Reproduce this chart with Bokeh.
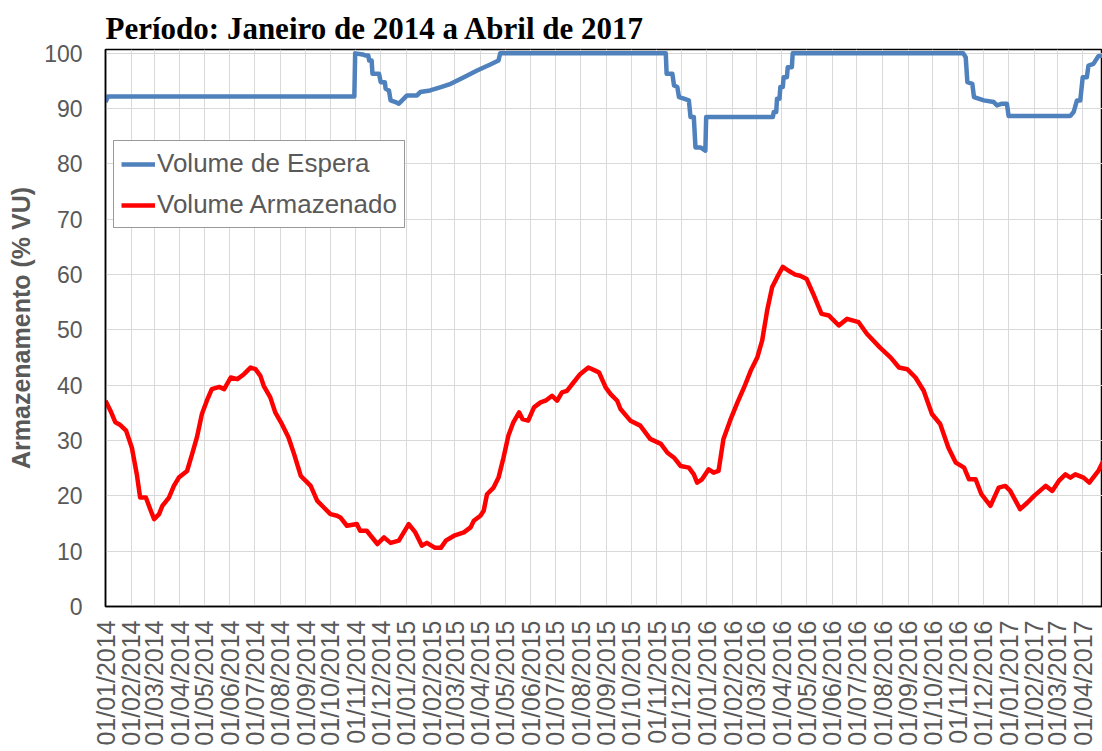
import math
import pandas as pd
from bokeh.plotting import figure
from bokeh.models import (Legend, LegendItem, DatetimeTickFormatter, MonthsTicker,
                          SingleIntervalTicker, Range1d, ColumnDataSource)
from bokeh.embed import file_html
from bokeh.resources import INLINE

BASE = pd.Timestamp("2014-01-01")

# Volume de Espera (% VU) - days since 01/01/2014
espera_day = [0, 3, 302, 303, 312, 316, 319, 320, 323, 324, 332, 334, 339, 340, 344, 346,
              352, 356, 360, 366, 378, 382, 394, 407, 419, 435, 451, 467, 477, 479,
              680, 681, 688, 690, 694, 696, 702, 708, 710, 714, 716, 722, 728, 729,
              810, 811, 814, 815, 818, 819, 822, 823, 827, 828, 833, 834,
              1041, 1044, 1046, 1052, 1054, 1066, 1078, 1082, 1088, 1094, 1096,
              1171, 1175, 1179, 1183, 1186, 1191, 1193, 1199, 1205, 1211]
espera_val = [91.2, 92.2, 92.2, 100.0, 99.8, 99.6, 99.6, 98.7, 98.7, 96.3, 96.3, 94.8, 94.8, 93.6, 93.3, 91.5,
              91.2, 90.9, 91.5, 92.4, 92.4, 93.0, 93.3, 93.9, 94.5, 95.7, 96.9, 98.0, 98.7, 100.0,
              100.0, 96.3, 96.3, 94.2, 93.9, 92.1, 91.8, 91.5, 88.5, 88.5, 83.0, 83.0, 82.4, 88.5,
              88.5, 89.4, 89.4, 91.8, 91.8, 93.9, 93.9, 95.7, 95.7, 97.5, 97.5, 100.0,
              100.0, 99.3, 94.8, 94.5, 92.1, 91.5, 91.2, 90.6, 90.9, 90.9, 88.7,
              88.7, 89.4, 91.5, 91.5, 95.7, 95.7, 97.8, 98.1, 99.5, 99.6]

# Volume Armazenado (% VU) - days since 01/01/2014
armaz_day = [0, 6, 12, 18, 25, 32, 38, 42, 49, 55, 59, 65, 69, 77, 83, 89, 99, 105, 111, 117,
             123, 129, 138, 144, 152, 160, 168, 176, 182, 188, 192, 200, 206, 214, 222, 229,
             237, 243, 249, 257, 265, 273, 281, 285, 293, 305, 309, 317, 330, 338, 346, 356,
             368, 376, 384, 390, 400, 407, 413, 423, 435, 443, 447, 455, 459, 463, 471, 477,
             483, 489, 495, 502, 506, 513, 520, 528, 534, 542, 548, 554, 560, 568, 576, 586,
             595, 599, 607, 613, 621, 625, 637, 649, 661, 674, 682, 690, 698, 708, 714, 718,
             724, 732, 738, 744, 750, 758, 767, 775, 783, 791, 797, 803, 809, 815, 822, 829,
             837, 843, 851, 859, 869, 878, 890, 900, 914, 924, 940, 953, 963, 973, 983, 993,
             1003, 1013, 1023, 1032, 1042, 1048, 1056, 1063, 1074, 1084, 1092, 1098, 1110,
             1119, 1127, 1141, 1149, 1157, 1165, 1171, 1177, 1187, 1194, 1205, 1211]
armaz_val = [37.2, 35.4, 33.3, 32.8, 31.8, 28.7, 23.9, 19.7, 19.7, 17.3, 15.8, 16.7, 18.2, 19.7, 21.8, 23.3, 24.5, 27.5, 30.6, 34.8,
             37.2, 39.3, 39.7, 39.3, 41.4, 41.1, 42.0, 43.2, 42.9, 41.7, 39.9, 37.8, 35.1, 33.0, 30.6, 27.5,
             23.6, 22.7, 21.8, 19.1, 17.9, 16.7, 16.4, 16.1, 14.6, 14.9, 13.7, 13.7, 11.3, 12.5, 11.5, 11.9,
             14.9, 13.4, 11.0, 11.5, 10.6, 10.6, 11.9, 12.8, 13.4, 14.3, 15.5, 16.4, 17.3, 20.3, 21.5, 23.3,
             26.9, 30.9, 33.3, 35.1, 33.9, 33.6, 36.0, 36.9, 37.2, 38.1, 37.2, 38.7, 39.0, 40.5, 42.0, 43.2,
             42.6, 42.3, 39.6, 38.4, 37.2, 35.7, 33.6, 32.7, 30.3, 29.4, 27.8, 26.9, 25.4, 25.1, 23.9, 22.4,
             23.0, 24.8, 24.2, 24.5, 30.3, 33.6, 36.9, 39.6, 42.6, 45.0, 48.1, 53.5, 57.7, 59.5, 61.4, 60.7,
             60.0, 59.8, 59.2, 56.5, 52.9, 52.6, 50.8, 52.0, 51.4, 49.3, 46.8, 45.0, 43.2, 42.9, 41.4, 39.0,
             34.8, 33.0, 28.7, 26.0, 25.1, 23.0, 23.0, 20.3, 18.2, 21.5, 21.8, 20.9, 17.6,
             18.8, 20.0, 21.8, 20.9, 22.7, 23.9, 23.3, 23.9, 23.3, 22.4, 24.5, 26.3]

title_text = "Período: Janeiro de 2014 a Abril de 2017"
y_label = "Armazenamento (% VU)"
series_names = ["Volume de Espera", "Volume Armazenado"]
y_ticks_interval = 10

to_dates = lambda days: [BASE + pd.Timedelta(days=d) for d in days]
src_esp = ColumnDataSource(dict(x=to_dates(espera_day), y=espera_val))
src_arm = ColumnDataSource(dict(x=to_dates(armaz_day), y=armaz_val))

p = figure(width=1102, height=751, x_axis_type="datetime", output_backend="svg",
           toolbar_location=None,
           x_range=Range1d(BASE, BASE + pd.Timedelta(days=1210)),
           y_range=Range1d(0, 100.7),
           min_border_left=105, min_border_right=0, min_border_top=49, min_border_bottom=145)

p.title.text = title_text
p.title.text_font = "Liberation Serif"
p.title.text_font_size = "31px"
p.title.text_font_style = "bold"
p.title.text_color = "black"
p.title.align = "left"
p.title.standoff = 8

p.outline_line_color = "black"
p.outline_line_width = 1.5
p.background_fill_color = "white"
p.border_fill_color = "white"

ticker = MonthsTicker(months=list(range(12)))
p.xaxis.ticker = ticker
fmt = "%d/%m/%Y"
p.xaxis.formatter = DatetimeTickFormatter(days=fmt, months=fmt, years=fmt, hours=fmt,
                                          minutes=fmt, seconds=fmt, milliseconds=fmt,
                                          microseconds=fmt, hourmin=fmt, minsec=fmt)
p.xaxis.major_label_orientation = math.pi / 2
p.xaxis.major_label_text_font = "Liberation Sans"
p.xaxis.major_label_text_font_size = "25px"
p.xaxis.major_label_text_color = "#595959"
p.xaxis.major_label_standoff = 14
p.xaxis.major_tick_out = 0
p.xaxis.major_tick_in = 0
p.xaxis.minor_tick_out = 0
p.xaxis.minor_tick_in = 0
p.xaxis.axis_line_color = "black"
p.xaxis.axis_line_width = 1.5

p.yaxis.ticker = SingleIntervalTicker(interval=y_ticks_interval, num_minor_ticks=0)
p.yaxis.major_label_text_font = "Liberation Sans"
p.yaxis.major_label_text_font_size = "23px"
p.yaxis.major_label_text_color = "#595959"
p.yaxis.major_label_standoff = 23
p.yaxis.major_tick_out = 0
p.yaxis.major_tick_in = 0
p.yaxis.minor_tick_out = 0
p.yaxis.minor_tick_in = 0
p.yaxis.axis_line_color = "black"
p.yaxis.axis_line_width = 1.5
p.yaxis.axis_label = y_label
p.yaxis.axis_label_text_font = "Liberation Sans"
p.yaxis.axis_label_text_font_size = "25px"
p.yaxis.axis_label_text_font_style = "bold"
p.yaxis.axis_label_text_color = "#595959"
p.yaxis.axis_label_standoff = 6

p.xgrid.grid_line_color = "#D9D9D9"
p.ygrid.grid_line_color = "#D9D9D9"
p.xgrid.grid_line_width = 1
p.ygrid.grid_line_width = 1

r_esp = p.line("x", "y", source=src_esp, line_color="#4F81BD", line_width=4.5, line_join="round")
r_arm = p.line("x", "y", source=src_arm, line_color="#FF0000", line_width=4.5, line_join="round")

legend = Legend(items=[LegendItem(label=series_names[0], renderers=[r_esp]),
                       LegendItem(label=series_names[1], renderers=[r_arm])],
                location=(8, 378))
legend.label_text_font = "Liberation Sans"
legend.label_text_font_size = "26px"
legend.label_text_color = "#595959"
legend.glyph_width = 34
legend.glyph_height = 20
legend.label_standoff = 2
legend.padding = 7
legend.spacing = 10
legend.margin = 0
legend.border_line_color = "#333333"
legend.border_line_width = 1
legend.background_fill_color = "white"
legend.background_fill_alpha = 1
p.add_layout(legend)

open("out.html", "w").write(file_html(p, INLINE))
